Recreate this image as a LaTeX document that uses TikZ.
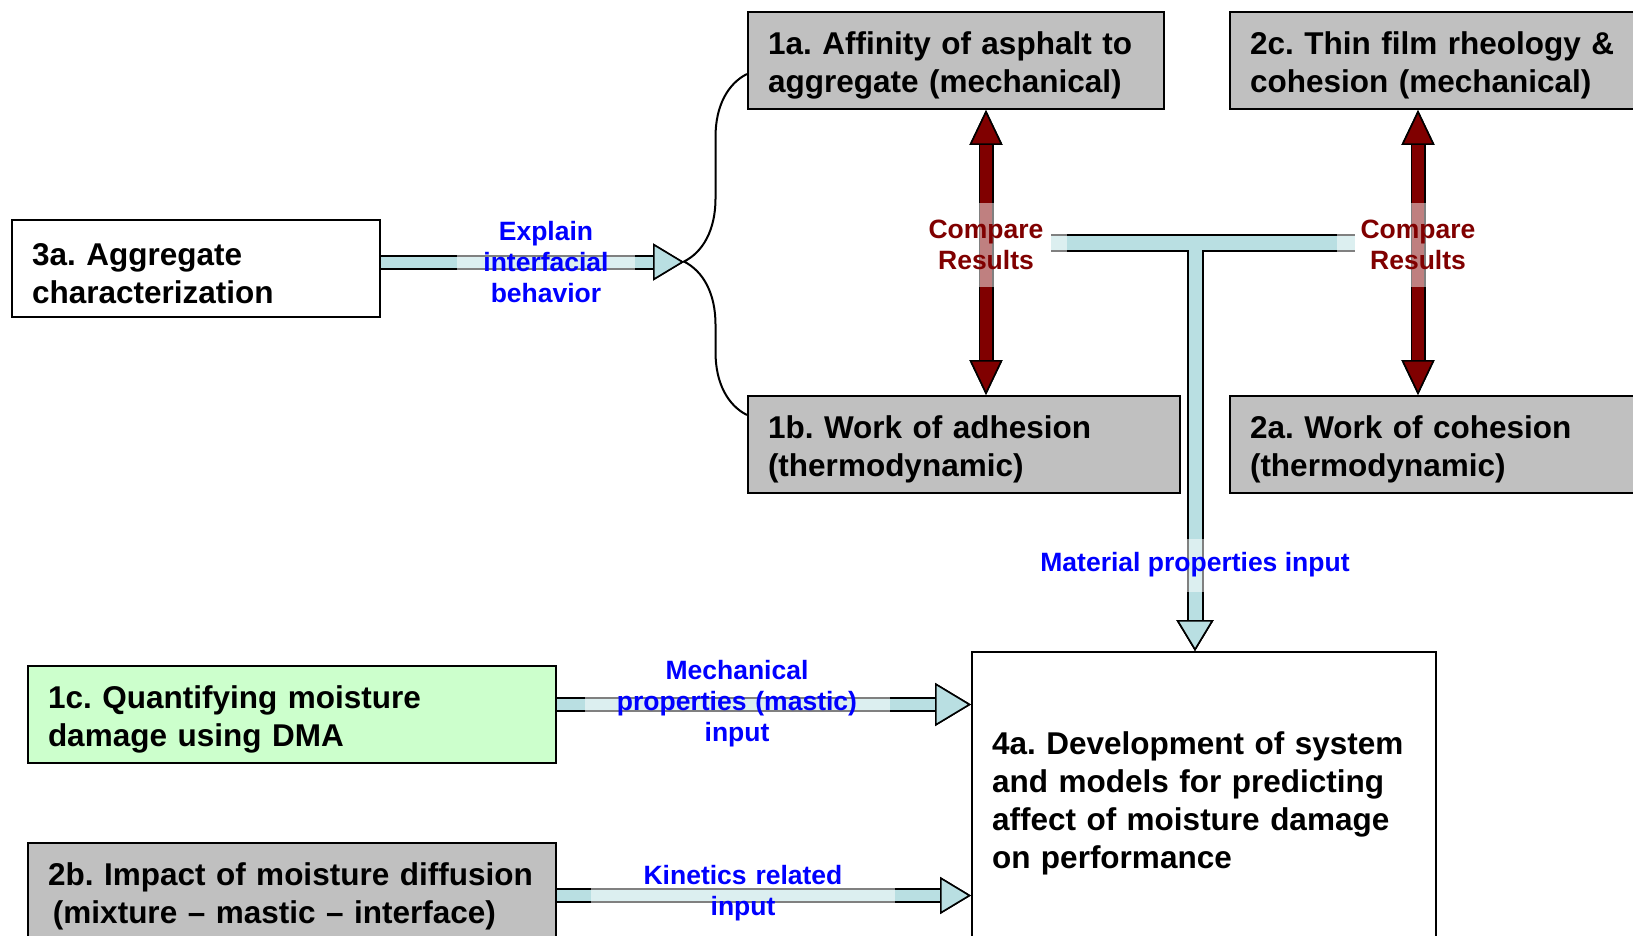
\documentclass[tikz,border=0pt]{standalone}
\usepackage{fontspec}
\setmainfont{Liberation Sans}
\frenchspacing
\usetikzlibrary{arrows.meta, positioning, decorations.pathreplacing}
\definecolor{boxgray}{RGB}{192,192,192}
\definecolor{boxgreen}{RGB}{204,255,204}
\definecolor{flowblue}{RGB}{185,223,226}
\definecolor{cmpred}{RGB}{128,0,0}
\definecolor{lblblue}{RGB}{0,0,255}
\tikzset{
  bluetip/.tip={Triangle[length=31pt, width=37pt, line width=1.6pt, color=black, fill=flowblue]},
  bigtip/.tip={Triangle[length=36pt, width=43pt, line width=1.6pt, color=black, fill=flowblue]},
  redtip/.tip={Triangle[length=35pt, width=33pt, line width=1.6pt, color=black, fill=cmpred]}
}
\begin{document}
\begin{tikzpicture}[x=1pt, y=-1pt]
        % Styles for the boxes, labels and fat arrows
        \tikzstyle{box} = [draw, rectangle, line width=2pt, anchor=north west, align=left, inner xsep=20pt, inner ysep=0pt, minimum height=97pt, font=\fontsize{31.5}{38}\selectfont\bfseries, execute at begin node={\rule{0pt}{32pt}}]
        \tikzstyle{lbl} = [align=center, inner sep=0pt, fill=white, fill opacity=0.5, text opacity=1, font=\fontsize{26.5}{31}\selectfont\bfseries]
        \tikzstyle{flow} = [line width=11pt, draw=flowblue, preaction={draw=black, line width=15pt}, -bluetip]
        \tikzstyle{compare} = [line width=12pt, draw=cmpred, preaction={draw=black, line width=15pt}, redtip-redtip]
        \path[use as bounding box] (0,0) rectangle (1633,936);
        \clip (0,0) rectangle (1633,936);
       % Nodes
       \node [box, text width=328pt] (n3a) at (11,219) {3a. Aggregate\\characterization}; % Aggregate box
       \node [box, fill=boxgray, text width=376pt] (n1a) at (747,11) {1a. Affinity of asphalt to\\aggregate (mechanical)}; % Affinity box
       \node [box, fill=boxgray, text width=392pt] (n1b) at (747,395) {1b. Work of adhesion\\(thermodynamic)}; % Adhesion box
       \node [box, fill=boxgray, text width=390pt, right=64pt of n1a] (n2c) {2c. Thin film rheology \&\\cohesion (mechanical)}; % Thin film box
       \node [box, fill=boxgray, text width=390pt, right=48pt of n1b] (n2a) {2a. Work of cohesion\\(thermodynamic)}; % Cohesion box
       \node [box, fill=boxgreen, text width=488pt] (n1c) at (27,665) {1c. Quantifying moisture\\damage using DMA}; % DMA box
       \node [box, fill=boxgray, text width=488pt, below=78pt of n1c] (n2b) {\mbox{2b. Impact of moisture diffusion}\\\mbox{\hspace*{5pt}(mixture – mastic – interface)}}; % Diffusion box
       \node [box, text width=424pt, minimum height=293pt] (n4a) at (971,651) {4a. Development of system\\and models for predicting\\affect of moisture damage\\on performance}; % Model box
       \coordinate (braceTip) at (684,262); % Brace tip
       \coordinate (braceTop) at (747,74); % Brace upper end
       \coordinate (braceBot) at (747,415); % Brace lower end
       \coordinate (cmpL) at (986,245); % Left compare arrow
       \coordinate (cmpR) at (1418,245); % Right compare arrow
       \coordinate (barL) at (1051,243); % T bar left end
       \coordinate (barR) at (1355,243); % T bar right end
       \coordinate (barM) at (1195,243); % T bar joint
       % Connections
       \draw[line width=2pt, decorate, decoration={brace, amplitude=63pt, aspect=0.45}] (braceBot) -- (braceTop);
       \draw[flow] (n3a.east |- braceTip) -- (braceTip); % Aggregate to brace
       \draw[compare] (cmpL |- n1a.south) -- (cmpL |- n1b.north); % 1a <-> 1b
       \draw[compare] (cmpR |- n2c.south) -- (cmpR |- n2a.north); % 2c <-> 2a
       \draw[line width=17pt, black] (barL) -- (barR);
       \draw[flow, line width=13pt, preaction={draw=black, line width=17pt}] (barM) -- (barM |- n4a.north); % T bar to 4a
       \draw[line width=13pt, flowblue] (barL) -- (barR);
       \draw[flow, -bigtip] ([yshift=10pt]n1c.east) -- ([yshift=10pt]n1c.east -| n4a.west); % 1c to 4a
       \draw[flow] ([yshift=-4pt]n2b.east) -- ([yshift=-4pt]n2b.east -| n4a.west); % 2b to 4a
       % Labels
       \node [lbl, text=lblblue, text width=178pt] (explain) at (546,262) {Explain\\interfacial\\behavior};
       \node [lbl, text=cmpred, text width=162pt, minimum height=84pt] (cmp1) at (cmpL) {Compare\\Results};
       \node [lbl, text=cmpred, text width=162pt, minimum height=84pt] (cmp2) at (cmpR) {Compare\\Results};
       \node [lbl, text=lblblue, minimum height=53pt] (material) at (1195,565) {Material properties input};
       \node [lbl, text=lblblue, text width=305pt] (mechanical) at (737,704) {Mechanical\\properties (mastic)\\input};
       \node [lbl, text=lblblue, text width=304pt] (kinetics) at (743,893) {Kinetics related\\input};
\end{tikzpicture}
\end{document}
